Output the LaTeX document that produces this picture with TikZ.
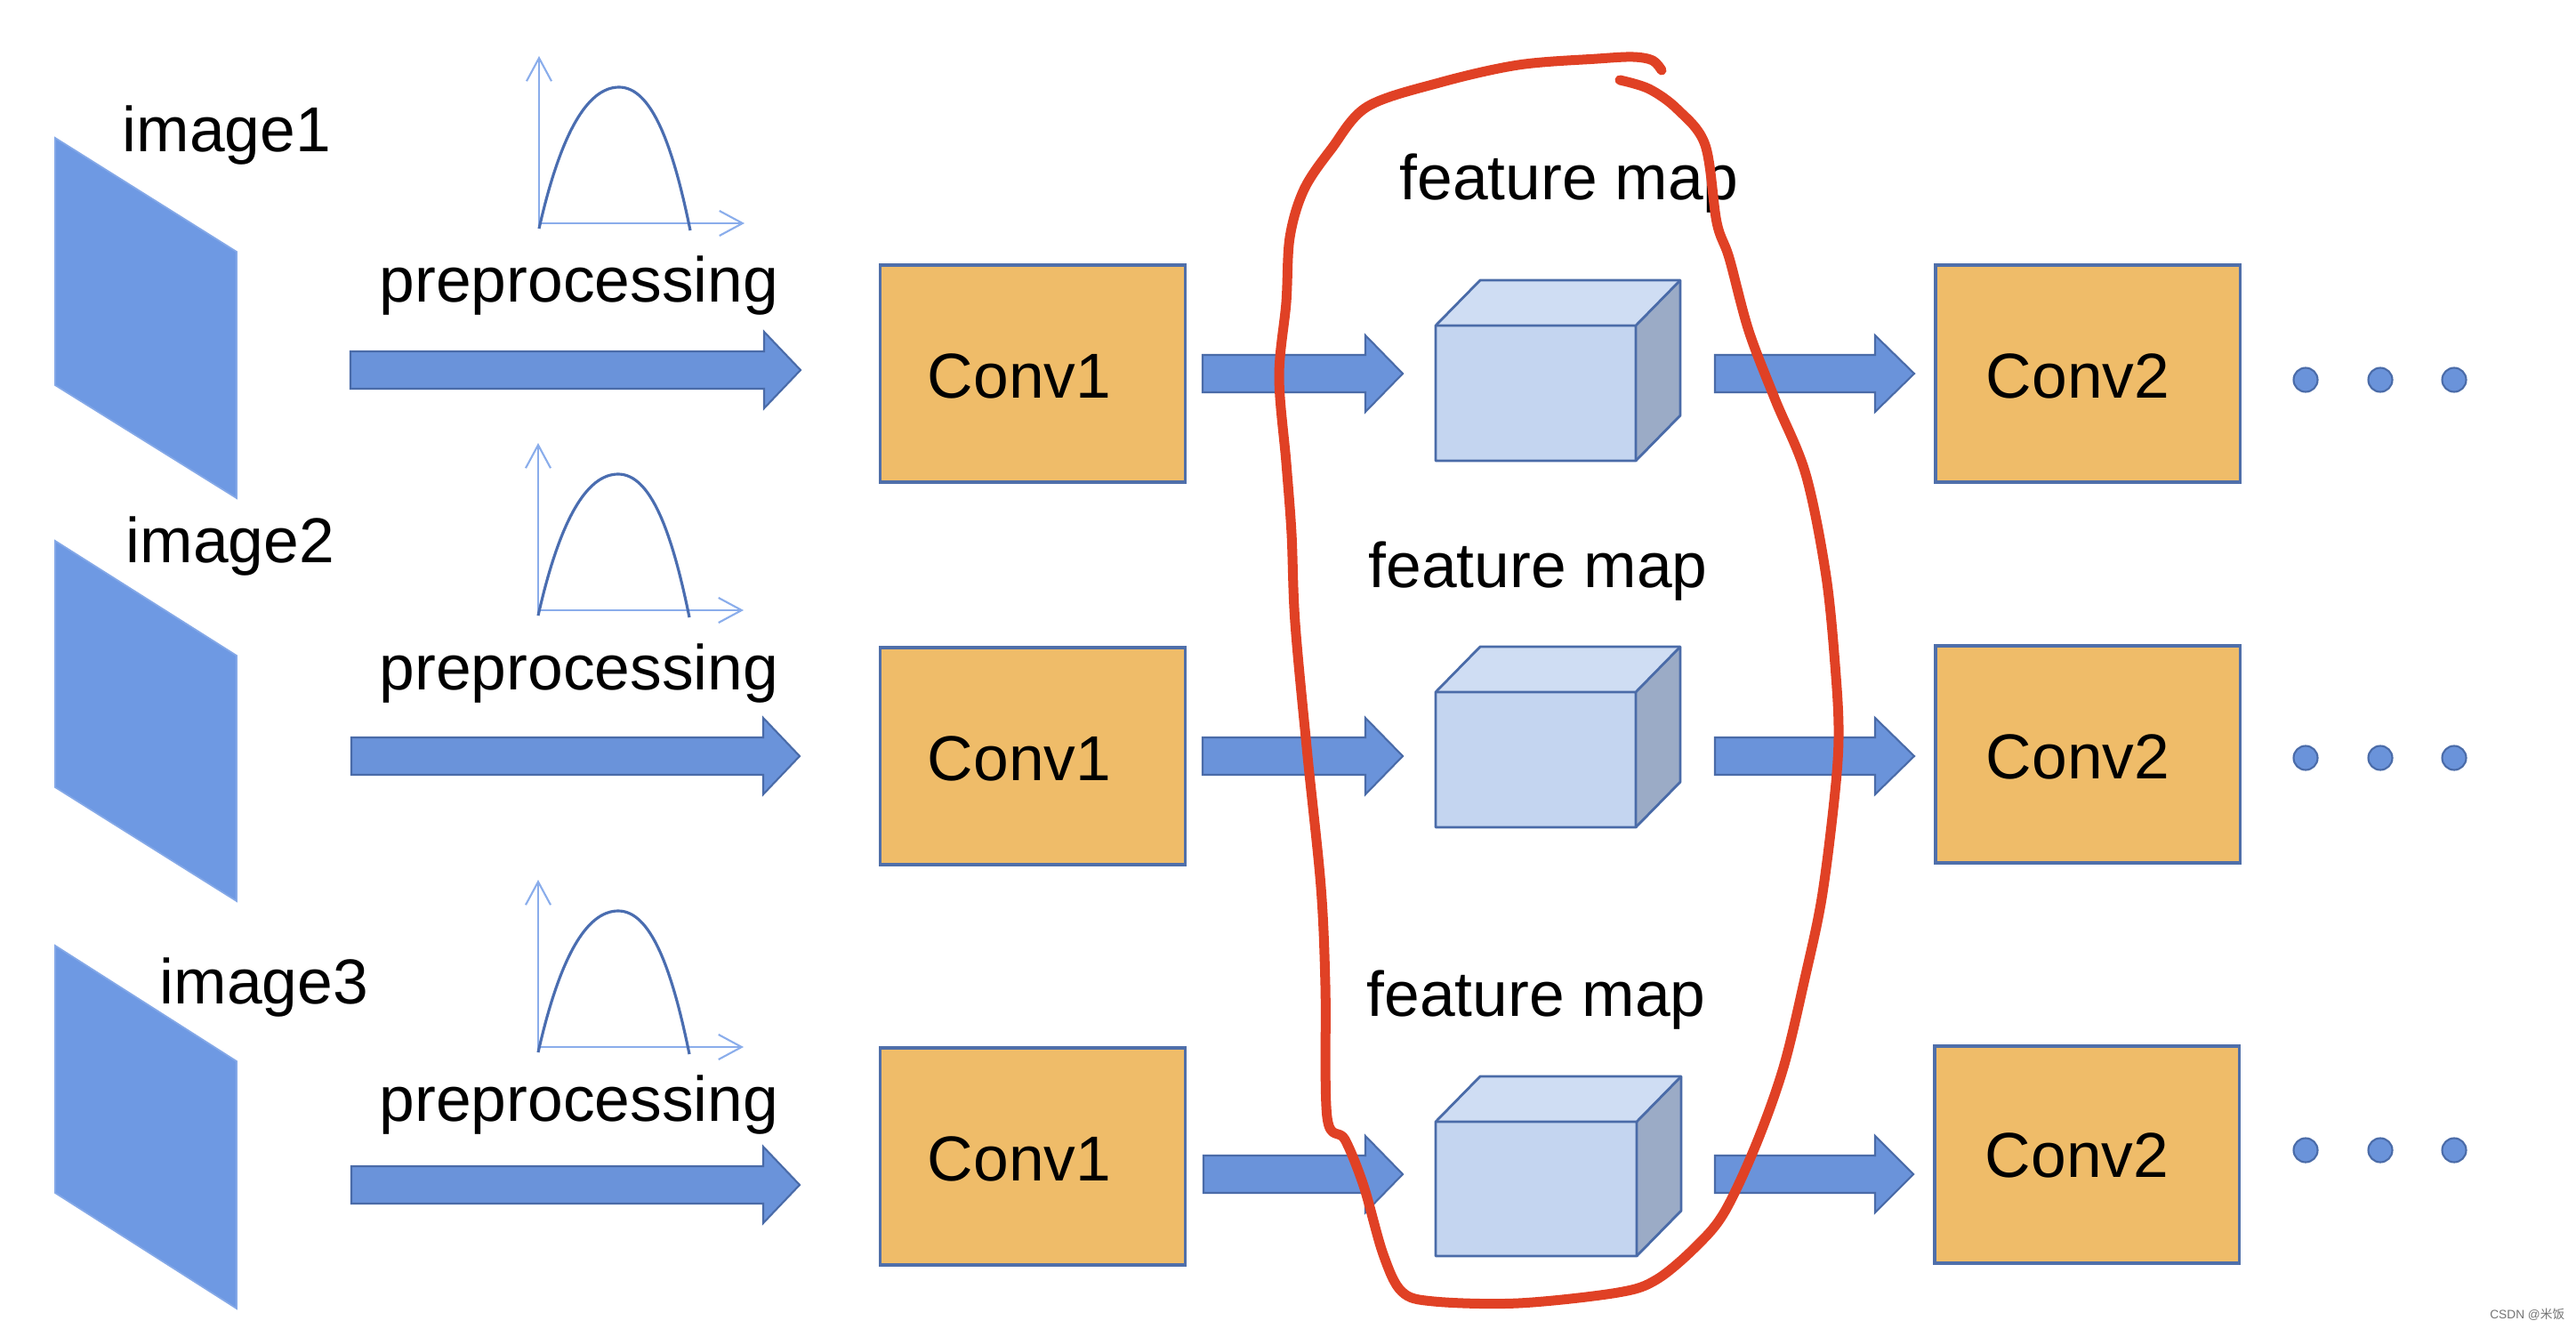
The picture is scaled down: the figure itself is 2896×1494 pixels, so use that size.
\documentclass[tikz,border=0pt]{standalone}
\usepackage{fontspec}
\setmainfont{Liberation Sans}
\newfontfamily\cjk{Noto Sans CJK SC}
\usetikzlibrary{arrows.meta}
\definecolor{imgblue}{HTML}{6E99E3}
\definecolor{arrfill}{HTML}{6A93DA}
\definecolor{arrdraw}{HTML}{4A6BA8}
\definecolor{convfill}{HTML}{EFBC69}
\definecolor{convdraw}{HTML}{4F6FAA}
\definecolor{cubefront}{HTML}{C4D5F0}
\definecolor{cubetop}{HTML}{CFDDF3}
\definecolor{cubeside}{HTML}{9BABC6}
\definecolor{axisblue}{HTML}{8AADEB}
\definecolor{curveblue}{HTML}{4A6DB0}
\definecolor{penred}{HTML}{E04125}
\tikzset{
  lbl/.style={font=\fontsize{20.3pt}{24pt}\selectfont, anchor=base, inner sep=0pt},
  imgshape/.style={fill=imgblue, draw=imgblue!85!white, line width=0.5pt},
  barrow/.style={fill=arrfill, draw=arrdraw, line width=0.6pt},
  convbox/.style={rectangle, fill=convfill, draw=convdraw, line width=0.9pt, minimum width=3.42cm, minimum height=2.44cm, inner sep=0pt},
  cubeedge/.style={draw=arrdraw, line width=0.8pt, line join=round},
  axisline/.style={draw=axisblue, line width=0.6pt, -{Straight Barb[length=0.26cm, width=0.28cm, line width=0.6pt]}},
  distcurve/.style={draw=curveblue, line width=0.9pt},
  dotstyle/.style={circle, fill=arrfill, draw=arrdraw, line width=0.6pt, minimum size=0.27cm, inner sep=0pt},
  redloop/.style={draw=penred, line width=0.11cm, line cap=round, line join=round},
}
\newcommand\blockarrow[4]{%
  \draw[barrow] (#1,#4-21) -- (#2,#4-21) -- (#2,#4-43) -- (#3,#4) -- (#2,#4+43) -- (#2,#4+21) -- (#1,#4+21) -- cycle;}
\newcommand\featcube[5]{% name, x0, y0, x1, y1
  \fill[cubetop] (#2,#3) -- (#2+50,#3-51) -- (#4+50,#3-51) -- (#4,#3) -- cycle;
  \fill[cubeside] (#4,#3) -- (#4+50,#3-51) -- (#4+50,#5-51) -- (#4,#5) -- cycle;
  \fill[cubefront] (#2,#3) rectangle (#4,#5);
  \draw[cubeedge] (#2,#3) -- (#2+50,#3-51) -- (#4+50,#3-51) -- (#4+50,#5-51) -- (#4,#5) -- (#2,#5) -- cycle;
  \draw[cubeedge] (#2,#3) -- (#4,#3) -- (#4+50,#3-51) (#4,#3) -- (#4,#5);
  \coordinate (#1) at ({(#2+#4)/2},{(#3+#5)/2});}
\newcommand\distplot[2]{% origin x, origin y
  \draw[axisline] (#1,#2+6) -- (#1,#2-188);
  \draw[axisline] (#1,#2) -- (#1+231,#2);
  \draw[distcurve] (#1,#2+6) .. controls (#1+24,#2-100) and (#1+54,#2-153) .. (#1+90,#2-153)
     .. controls (#1+126,#2-153) and (#1+150,#2-90) .. (#1+170,#2+8);}
\begin{document}
\begin{tikzpicture}[x=0.01cm, y=-0.01cm]
\useasboundingbox (0,0) rectangle (2896,1494);

% input images
\fill[imgshape] (62,155) -- (266,283) -- (266,560) -- (62,433) -- cycle;
\fill[imgshape] (62,608) -- (266,737) -- (266,1013) -- (62,885) -- cycle;
\fill[imgshape] (62,1063) -- (266,1193) -- (266,1471) -- (62,1341) -- cycle;
\node[lbl] (img1) at (255,171) {image1};
\node[lbl] (img2) at (259,632) {image2};
\node[lbl] (img3) at (297,1128) {image3};

% distribution plots
\distplot{606}{251}
\distplot{605}{686}
\distplot{605}{1177}

% preprocessing labels
\node[lbl] (pre1) at (651,340) {preprocessing};
\node[lbl] (pre2) at (651,775) {preprocessing};
\node[lbl] (pre3) at (651,1260) {preprocessing};

% big arrows
\blockarrow{394}{859}{900}{416}
\blockarrow{395}{858}{899}{850}
\blockarrow{395}{858}{899}{1332}

% Conv1 boxes
\node[convbox] (c1a) at (1161,420) {};
\node[convbox] (c1b) at (1161,850) {};
\node[convbox] (c1c) at (1161,1300) {};
\node[lbl] (t1a) at (1146,447) {Conv1};
\node[lbl] (t1b) at (1146,877) {Conv1};
\node[lbl] (t1c) at (1146,1327) {Conv1};

% arrows Conv1 -> cube
\blockarrow{1352}{1535}{1577}{420}
\blockarrow{1352}{1535}{1577}{850}
\blockarrow{1353}{1535}{1577}{1320}

% feature map cubes
\featcube{fa}{1614}{366}{1839}{518}
\featcube{fb}{1614}{778}{1839}{930}
\featcube{fc}{1614}{1261}{1840}{1412}
\node[lbl] (fma) at (1764,225) {feature map};
\node[lbl] (fmb) at (1729,660) {feature map};
\node[lbl] (fmc) at (1727,1142) {feature map};

% arrows cube -> Conv2
\blockarrow{1928}{2108}{2152}{420}
\blockarrow{1928}{2108}{2152}{850}
\blockarrow{1928}{2108}{2151}{1320}

% Conv2 boxes
\node[convbox] (c2a) at (2347,420) {};
\node[convbox] (c2b) at (2347,848) {};
\node[convbox] (c2c) at (2346,1298) {};
\node[lbl] (t2a) at (2336,447) {Conv2};
\node[lbl] (t2b) at (2336,875) {Conv2};
\node[lbl] (t2c) at (2335,1323) {Conv2};

% dots
\foreach \yy/\r in {427/a, 852/b, 1293/c}{
  \node[dotstyle] (d1\r) at (2592,\yy) {};
  \node[dotstyle] (d2\r) at (2676,\yy) {};
  \node[dotstyle] (d3\r) at (2759,\yy) {};
}

% red hand-drawn loop
\draw[redloop] plot[smooth, tension=0.55] coordinates {
 (1868,79) (1858,68) (1836,64) (1796,66) (1707,73) (1618,93) (1537,120)
 (1497,167) (1466,213) (1450,267) (1446,340) (1438,423) (1446,520) (1452,600)
 (1456,700) (1470,850) (1485,997) (1490,1108) (1492,1256) (1512,1281)
 (1533,1333) (1555,1410) (1576,1452) (1612,1463) (1707,1465) (1819,1453)
 (1863,1438) (1908,1400) (1939,1362) (1974,1287) (2005,1200) (2029,1100)
 (2048,1010) (2062,900) (2067,830) (2064,760) (2053,648) (2030,533)
 (1996,450) (1966,372) (1944,290) (1930,250) (1917,163) (1886,123)
 (1854,100) (1821,90)};

% watermark
\node[font=\fontsize{3.9pt}{4.5pt}\selectfont, text=black!55, anchor=east, inner sep=0pt] (wm) at (2884,1478) {CSDN @{\cjk 米饭}};
\end{tikzpicture}
\end{document}
